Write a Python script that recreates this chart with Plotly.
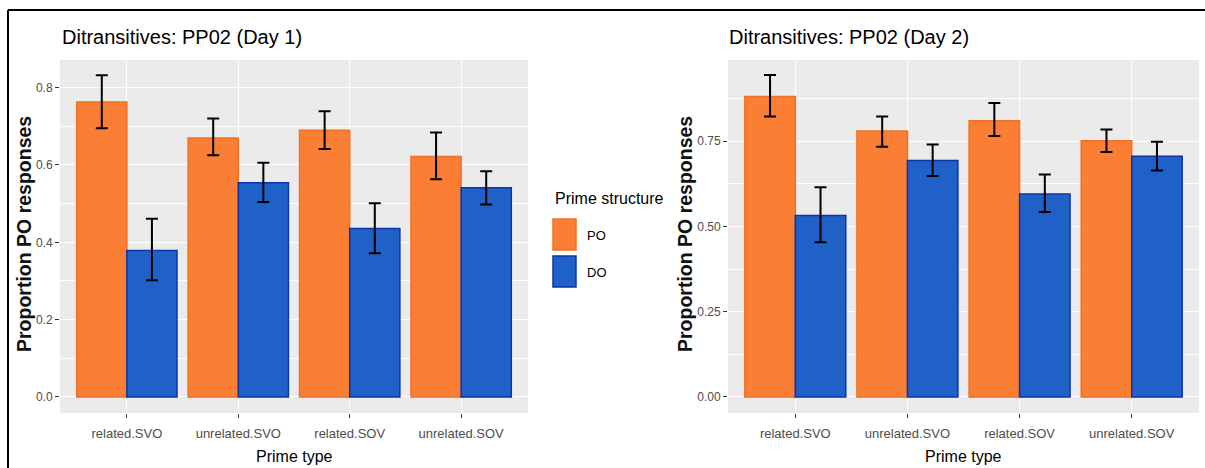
import plotly.graph_objects as go

W, H = 1205, 468

categories = ["related.SVO", "unrelated.SVO", "related.SOV", "unrelated.SOV"]
series_names = ["PO", "DO"]

# Day 1
day1_po = [0.763, 0.670, 0.690, 0.622]
day1_po_hi = [0.832, 0.720, 0.739, 0.684]
day1_po_lo = [0.695, 0.625, 0.641, 0.563]
day1_do = [0.379, 0.554, 0.436, 0.541]
day1_do_hi = [0.461, 0.606, 0.501, 0.584]
day1_do_lo = [0.302, 0.504, 0.372, 0.498]

# Day 2
day2_po = [0.881, 0.780, 0.810, 0.751]
day2_po_hi = [0.944, 0.822, 0.862, 0.784]
day2_po_lo = [0.822, 0.734, 0.765, 0.718]
day2_do = [0.532, 0.693, 0.595, 0.706]
day2_do_hi = [0.615, 0.740, 0.652, 0.748]
day2_do_lo = [0.454, 0.648, 0.542, 0.664]

day1_ticks = [0.0, 0.2, 0.4, 0.6, 0.8]
day2_ticks = [0.0, 0.25, 0.50, 0.75]

titles = ["Ditransitives: PP02 (Day 1)", "Ditransitives: PP02 (Day 2)"]
x_title = "Prime type"
y_title = "Proportion PO responses"
legend_title = "Prime structure"

fill = {"PO": "#FA7F35", "DO": "#2061C8"}
edge = {"PO": "#F2701F", "DO": "#0A34A8"}

FONT = "Liberation Sans, Arial, sans-serif"

fig = go.Figure()


def add_panel(po, po_hi, po_lo, do, do_hi, do_lo, xa, ya):
    for name, vals, hi, lo in [("PO", po, po_hi, po_lo), ("DO", do, do_hi, do_lo)]:
        fig.add_trace(go.Bar(
            x=categories, y=vals, name=name, showlegend=False,
            marker=dict(color=fill[name], line=dict(color=edge[name], width=1.5)),
            error_y=dict(type="data", symmetric=False,
                         array=[h - v for h, v in zip(hi, vals)],
                         arrayminus=[v - l for v, l in zip(vals, lo)],
                         color="black", thickness=2, width=6),
            xaxis=xa, yaxis=ya,
        ))


add_panel(day1_po, day1_po_hi, day1_po_lo, day1_do, day1_do_hi, day1_do_lo, "x", "y")
add_panel(day2_po, day2_po_hi, day2_po_lo, day2_do, day2_do_hi, day2_do_lo, "x2", "y2")


def px_x(p):
    return p / W


def px_y(p):
    return 1 - p / H


ydom = [px_y(413), px_y(60)]
xdom1 = [px_x(60), px_x(528)]
xdom2 = [px_x(728), px_x(1199)]

xcommon = dict(
    type="category", range=[-0.6, 3.6], showgrid=True, gridcolor="white", gridwidth=1.2,
    ticks="outside", ticklen=4, tickcolor="#333333", tickwidth=1,
    tickfont=dict(family=FONT, size=13, color="#4D4D4D"), ticklabelstandoff=4,
    showline=False, zeroline=False, fixedrange=True,
)

fig.update_layout(
    width=W, height=H,
    margin=dict(l=0, r=0, t=0, b=0),
    paper_bgcolor="white", plot_bgcolor="#EBEBEB",
    barmode="group", bargap=0.1, bargroupgap=0.0,
    font=dict(family=FONT),
    showlegend=False,
    xaxis=dict(domain=xdom1, anchor="y", **xcommon),
    xaxis2=dict(domain=xdom2, anchor="y2", **xcommon),
    yaxis=dict(
        domain=ydom, anchor="x", range=[-0.0415, 0.8715],
        tickvals=day1_ticks, ticktext=[f"{v:.1f}" for v in day1_ticks],
        showgrid=True, gridcolor="white", gridwidth=1.2, zeroline=False,
        minor=dict(tickvals=[0.1, 0.3, 0.5, 0.7], showgrid=True, gridcolor="white", gridwidth=0.6, ticks=""),
        ticks="outside", ticklen=4, tickcolor="#333333",
        tickfont=dict(family=FONT, size=12, color="#4D4D4D"), fixedrange=True,
    ),
    yaxis2=dict(
        domain=ydom, anchor="x2", range=[-0.047, 0.988],
        tickvals=day2_ticks, ticktext=[f"{v:.2f}" for v in day2_ticks],
        showgrid=True, gridcolor="white", gridwidth=1.2, zeroline=False,
        minor=dict(tickvals=[0.125, 0.375, 0.625, 0.875], showgrid=True, gridcolor="white", gridwidth=0.6, ticks=""),
        ticks="outside", ticklen=4, tickcolor="#333333",
        tickfont=dict(family=FONT, size=12, color="#4D4D4D"), fixedrange=True,
    ),
)

ann = []
# panel titles
for t, xp in zip(titles, [60, 727]):
    ann.append(dict(text=t, x=px_x(xp), y=px_y(37), xref="paper", yref="paper",
                    xanchor="left", yanchor="middle", showarrow=False,
                    font=dict(family=FONT, size=20, color="black")))
# x titles
for xc in [294, 963]:
    ann.append(dict(text=x_title, x=px_x(xc), y=px_y(456), xref="paper", yref="paper",
                    xanchor="center", yanchor="middle", showarrow=False,
                    font=dict(family=FONT, size=16, color="black")))
# y titles
for xc in [24, 685]:
    ann.append(dict(text=y_title, x=px_x(xc), y=px_y(234), xref="paper", yref="paper",
                    xanchor="center", yanchor="middle", showarrow=False, textangle=-90,
                    font=dict(family=FONT, size=19.5, color="#111111", weight="bold")))
# legend
ann.append(dict(text=legend_title, x=px_x(553), y=px_y(198), xref="paper", yref="paper",
                xanchor="left", yanchor="middle", showarrow=False,
                font=dict(family=FONT, size=16, color="black")))
shapes = []
for i, name in enumerate(series_names):
    top = 219 + i * 37
    shapes.append(dict(type="rect", xref="paper", yref="paper",
                       x0=px_x(553), x1=px_x(576), y0=px_y(top + 31), y1=px_y(top),
                       fillcolor=fill[name], line=dict(color=edge[name], width=1.5)))
    ann.append(dict(text=name, x=px_x(585), y=px_y(top + 16), xref="paper", yref="paper",
                    xanchor="left", yanchor="middle", showarrow=False,
                    font=dict(family=FONT, size=13, color="black")))

# outer frame lines
shapes.append(dict(type="line", xref="paper", yref="paper", x0=px_x(8), x1=1, y0=px_y(10), y1=px_y(10),
                   line=dict(color="black", width=2)))
shapes.append(dict(type="line", xref="paper", yref="paper", x0=px_x(8), x1=px_x(8), y0=px_y(10), y1=0,
                   line=dict(color="black", width=2)))

fig.update_layout(annotations=ann, shapes=shapes)

fig.write_html("out.html")
